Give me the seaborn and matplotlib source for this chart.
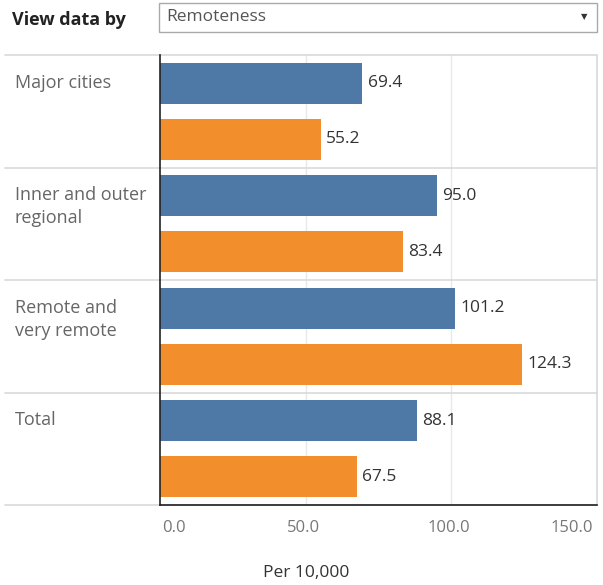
import matplotlib
matplotlib.use("Agg")
import matplotlib.pyplot as plt
import matplotlib.transforms as mtransforms
from matplotlib.patches import Rectangle
import seaborn as sns
import pandas as pd

categories = ["Major cities", "Inner and outer\nregional", "Remote and\nvery remote", "Total"]
series_names = ["Series 1", "Series 2"]
series1_values = [69.4, 95.0, 101.2, 88.1]
series2_values = [55.2, 83.4, 124.3, 67.5]
xticks = [0, 50, 100, 150]
xtick_labels = ["0.0", "50.0", "100.0", "150.0"]
colors = ["#4e79a7", "#f28e2b"]

df = pd.DataFrame({
    "category": categories * 2,
    "series": [series_names[0]] * 4 + [series_names[1]] * 4,
    "value": series1_values + series2_values,
})

sns.set_style("white")
plt.rcParams["font.family"] = ["Open Sans", "DejaVu Sans"]

fig = plt.figure(figsize=(6.03, 5.85), dpi=100)
ax = fig.add_axes([160 / 603, 1 - 505 / 585, 437 / 603, 450 / 585])

sns.barplot(data=df, y="category", x="value", hue="series", order=categories,
            hue_order=series_names, palette=colors, orient="h", width=1.0,
            gap=0.27, legend=False, ax=ax, saturation=1, edgecolor="none")

ax.set_xlim(0, 150)
ax.set_ylim(3.5, -0.5)
ax.set_xticks(xticks)
ax.set_xticklabels(xtick_labels, color="#777777", fontsize=12)
ax.set_yticks([])
ax.set_ylabel("")
ax.set_xlabel("")
ax.tick_params(axis="x", direction="out", length=5, width=1, color="#222222", pad=6)
labs = ax.get_xticklabels()
shifts = [2, -2, -2, -4]
aligns = ["left", "center", "center", "right"]
for lab, sh, al in zip(labs, shifts, aligns):
    lab.set_horizontalalignment(al)
    lab.set_transform(lab.get_transform() +
                      mtransforms.ScaledTranslation(sh / 100, 0, fig.dpi_scale_trans))

for x in xticks[1:]:
    ax.axvline(x, color="#e8e8e8", lw=1, zorder=0)

for s in ["top", "right"]:
    ax.spines[s].set_visible(False)
ax.spines["left"].set_color("#222222")
ax.spines["left"].set_linewidth(1.2)
ax.spines["bottom"].set_color("#222222")
ax.spines["bottom"].set_linewidth(1.2)

trans = mtransforms.blended_transform_factory(ax.transAxes, ax.transData)
x0 = (5 - 160) / 437
for yb in [-0.5, 0.5, 1.5, 2.5, 3.5]:
    ax.plot([x0, 1.0], [yb, yb], transform=trans, color="#d9d9d9", lw=1.2,
            clip_on=False, zorder=0)
ax.plot([1.0, 1.0], [-0.5, 3.5], transform=trans, color="#d9d9d9", lw=1.2,
        clip_on=False, zorder=0)

# value labels
for cont in ax.containers:
    ax.bar_label(cont, fmt="%.1f", padding=4, fontsize=12.5, color="#333333")

# category labels
for i, cat in enumerate(categories):
    ax.text(x0 + 10 / 437, i - 0.335, cat, transform=trans, ha="left", va="top",
            fontsize=13, color="#666666", linespacing=1.38)

# x-axis title
fig.text(0.507, 1 - 573 / 585, "Per 10,000", ha="center", va="center",
         fontsize=12.5, color="#333333")

# header
fig.text(12 / 603, 1 - 20 / 585, "View data by", ha="left", va="center",
         fontsize=13, fontweight="bold", color="#222222")
fig.patches.append(Rectangle((159 / 603, 1 - 32 / 585), 438 / 603, 29 / 585,
                             transform=fig.transFigure, facecolor="white",
                             edgecolor="#aaaaaa", lw=1))
fig.text(166 / 603, 1 - 17 / 585, "Remoteness", ha="left", va="center",
         fontsize=12.5, color="#555555")
fig.text(584 / 603, 1 - 17 / 585, "▼", ha="center", va="center",
         fontsize=6, color="#333333", family="DejaVu Sans")

fig.savefig("out.png", dpi=100)
